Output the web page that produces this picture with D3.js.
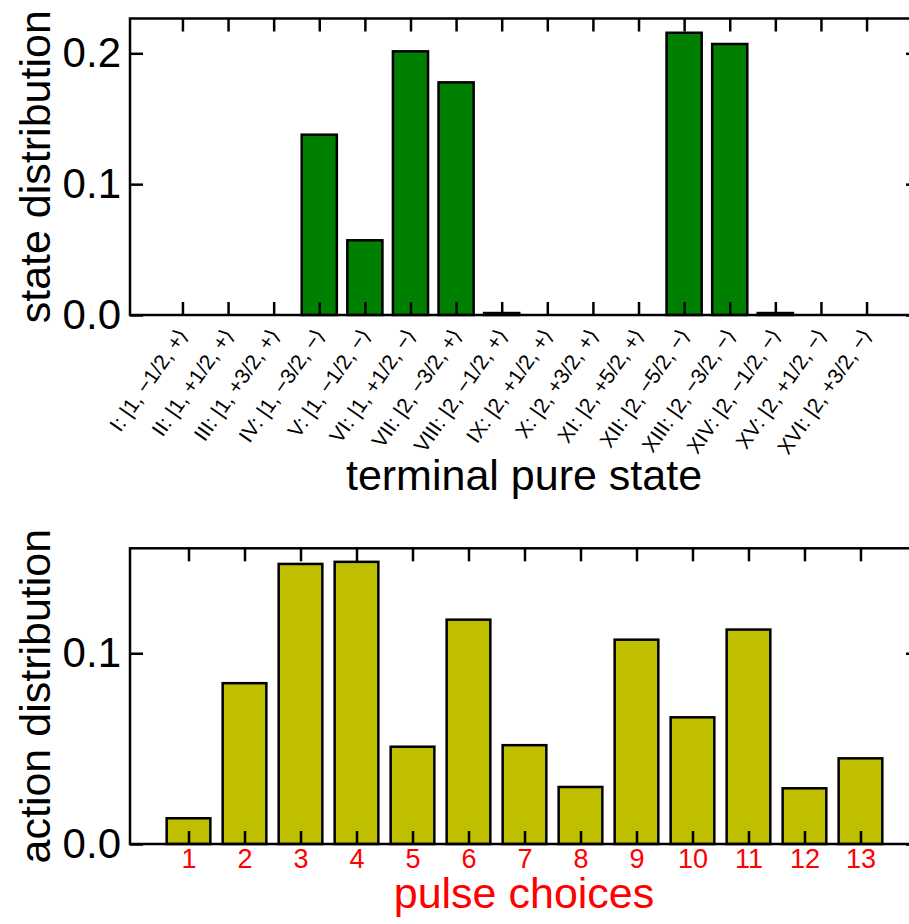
<!DOCTYPE html>
<html>
<head>
<meta charset="utf-8">
<script src="https://cdn.jsdelivr.net/npm/d3@7"></script>
<style>
  body { margin: 0; background: #fff; }
  svg { font-family: 'Liberation Sans', Arial, Helvetica, sans-serif; display: block; }
</style>
</head>
<body>
<div id="chart"></div>
<script>
// top panel: terminal pure states
const stateLabels = [
  'I: |1, \u22121/2, +\u27E9', 'II: |1, +1/2, +\u27E9', 'III: |1, +3/2, +\u27E9',
  'IV: |1, \u22123/2, \u2212\u27E9', 'V: |1, \u22121/2, \u2212\u27E9', 'VI: |1, +1/2, \u2212\u27E9',
  'VII: |2, \u22123/2, +\u27E9', 'VIII: |2, \u22121/2, +\u27E9', 'IX: |2, +1/2, +\u27E9',
  'X: |2, +3/2, +\u27E9', 'XI: |2, +5/2, +\u27E9', 'XII: |2, \u22125/2, \u2212\u27E9',
  'XIII: |2, \u22123/2, \u2212\u27E9', 'XIV: |2, \u22121/2, \u2212\u27E9', 'XV: |2, +1/2, \u2212\u27E9',
  'XVI: |2, +3/2, \u2212\u27E9'
];
const stateValues = [0, 0, 0, 0.1378, 0.0571, 0.2015, 0.1778, 0.0015, 0, 0, 0, 0.2157, 0.2071, 0.0015, 0, 0];
const stateTicks = [0, 0.1, 0.2];

// bottom panel: pulse choices
const pulseLabels = ['1', '2', '3', '4', '5', '6', '7', '8', '9', '10', '11', '12', '13'];
const pulseValues = [0.0135, 0.0843, 0.1468, 0.1479, 0.051, 0.1176, 0.0518, 0.0299, 0.1071, 0.0664, 0.1124, 0.0292, 0.0449];
const pulseTicks = [0, 0.1];

const width = 909;
const height = 924;
const left = 130;
const w = 789;
const tick = 13;
const lw = 2.5;

const svg = d3.select('#chart')
  .append('svg')
  .attr('width', width)
  .attr('height', height);

function panel(opts) {
  const g = svg.append('g')
    .attr('transform', 'translate(' + left + ',' + opts.top + ')');
  const h = opts.h;

  const x = d3.scalePoint().domain(opts.labels).range([0, w]).padding(opts.pad);
  const y = d3.scaleLinear().domain([0, opts.ymax]).range([h, 0]);
  const bw = x.step() * opts.barFrac;

  g.selectAll('rect.bar')
    .data(opts.values)
    .join('rect')
    .attr('class', 'bar')
    .attr('x', (d, i) => x(opts.labels[i]) - bw / 2)
    .attr('y', d => y(d))
    .attr('width', bw)
    .attr('height', d => y(0) - y(d))
    .style('fill', opts.color)
    .style('stroke', 'black')
    .style('stroke-width', lw);

  // inward ticks on all four sides
  const xb = g.append('g').attr('transform', 'translate(0,' + h + ')')
    .call(d3.axisBottom(x).tickSize(-tick).tickSizeOuter(0).tickPadding(opts.xPad));
  g.append('g')
    .call(d3.axisTop(x).tickSize(-tick).tickSizeOuter(0).tickFormat(''));
  g.append('g')
    .call(d3.axisLeft(y).tickValues(opts.yTicks).tickSize(-tick).tickSizeOuter(0)
      .tickPadding(9).tickFormat(d3.format('.1f')));
  g.append('g').attr('transform', 'translate(' + w + ',0)')
    .call(d3.axisRight(y).tickValues(opts.yTicks).tickSize(-tick).tickSizeOuter(0).tickFormat(''));

  g.selectAll('.domain').remove();
  g.selectAll('.tick line').style('stroke', 'black').style('stroke-width', lw);
  g.selectAll('.tick text').style('font-size', '42px').style('fill', 'black')
    .style('font-family', "'Liberation Sans', Arial, sans-serif");

  g.append('rect')
    .attr('width', w)
    .attr('height', h)
    .style('fill', 'none')
    .style('stroke', 'black')
    .style('stroke-width', lw);

  // y title
  g.append('text')
    .attr('transform', 'translate(' + (50 - left) + ',' + (h / 2) + ') rotate(-90)')
    .attr('text-anchor', 'middle')
    .style('font-size', '43px')
    .text(opts.ytitle);

  return { g, xb, h };
}

/* top panel */
const top1 = panel({
  top: 18.5, h: 296.5, labels: stateLabels, values: stateValues,
  ymax: 0.2266, yTicks: stateTicks, pad: 1.15, barFrac: 0.77,
  color: '#008000', xPad: 0, ytitle: 'state distribution'
});
top1.xb.selectAll('.tick text')
  .attr('x', 0).attr('y', 0).attr('dy', null)
  .attr('text-anchor', 'end')
  .attr('transform', 'translate(6,20) rotate(-55)')
  .style('font-size', '21px');
top1.g.append('text')
  .attr('x', 394)
  .attr('y', 490 - 18.5)
  .attr('text-anchor', 'middle')
  .style('font-size', '43px')
  .text('terminal pure state');

/* bottom panel */
const bot = panel({
  top: 548.3, h: 295.7, labels: pulseLabels, values: pulseValues,
  ymax: 0.155, yTicks: pulseTicks, pad: 1.045, barFrac: 0.78,
  color: '#bfbf00', xPad: 5, ytitle: 'action distribution'
});
bot.xb.selectAll('.tick text')
  .style('font-size', '27px')
  .style('fill', 'red');
bot.g.append('text')
  .attr('x', 394)
  .attr('y', 908 - 548.3)
  .attr('text-anchor', 'middle')
  .style('font-size', '43px')
  .style('fill', 'red')
  .text('pulse choices');
</script>
</body>
</html>
